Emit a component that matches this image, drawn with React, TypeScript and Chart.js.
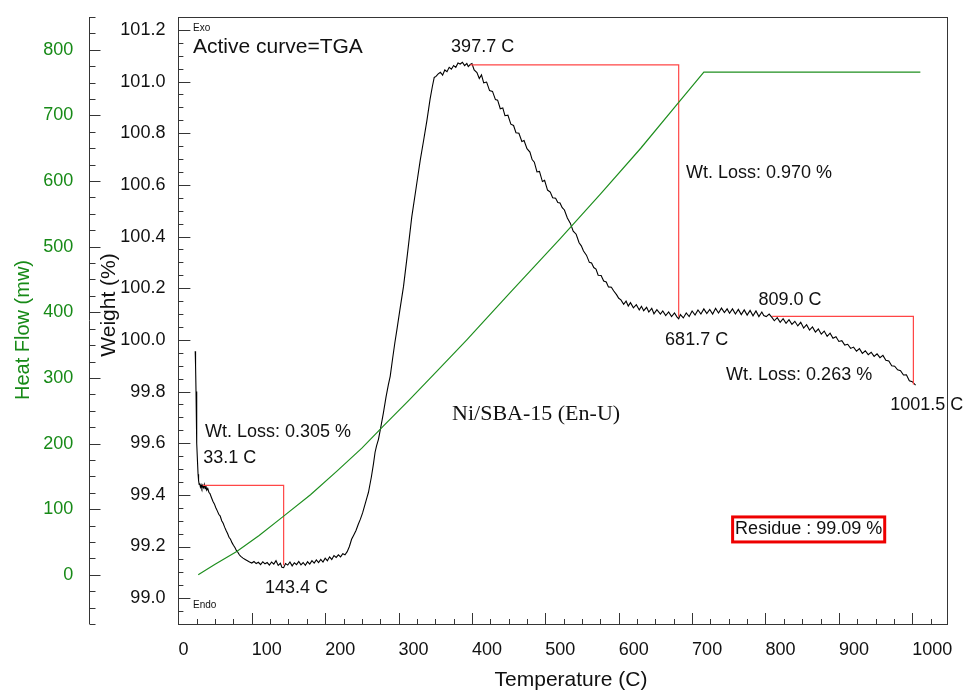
import React, { useEffect, useRef } from 'react';
import { Chart, registerables } from 'chart.js';

Chart.register(...registerables);

const SANS = '"Liberation Sans", Arial, Helvetica, sans-serif';
const SERIF = '"Liberation Serif", "Times New Roman", serif';
const GREEN_LINE = '#1f8f1f';
const GREEN_TEXT = '#178a17';
const RED = '#ff4646';
const AXIS = '#353535';

// ---- TGA curve (Temperature °C, Weight %) ----
const TGA_T = [
  22.9, 23.4, 24.0, 24.6, 25.3, 26.0, 26.8, 27.5, 28.3, 29.0, 30.0, 31.0, 32.0, 33.1, 34.2, 35.3, 36.4, 37.5, 38.6, 40.0,
  41.5, 43, 45, 47, 49, 51, 53, 55, 57, 59, 61, 63, 65, 67, 69, 71, 73, 75, 77, 79,
  81, 83, 85, 88, 91, 94, 97, 100, 103, 106, 109, 112, 115, 118, 121, 124, 127, 130, 133, 136,
  139, 141, 143.4, 146, 149, 152, 155, 158, 161, 164, 167, 170, 173, 176, 179, 182, 185, 188, 191, 194,
  197, 200, 203, 206, 209, 212, 215, 218, 221, 224, 227, 230, 233, 236, 239, 242, 245, 248, 251, 254,
  257, 259, 261, 263, 265.8, 268, 270, 272.6, 276, 279.4, 283, 286, 288.6, 292, 295, 297.7, 302, 306.7, 312, 318,
  324, 329.5, 334, 338.6, 343, 346, 348.6, 351, 354, 357, 360, 363, 366, 369, 372, 375, 378, 381, 384, 387,
  390, 393, 395, 397.7, 400, 403, 406.8, 410, 413, 416, 420, 424, 428, 432, 435, 438.6, 442, 445, 449, 453,
  456.7, 460, 464, 468, 471, 475, 479, 482, 485, 488.6, 492, 496, 499, 503, 506.7, 510, 514, 517, 520, 523,
  526, 530, 534, 538, 542, 546, 549, 552, 556, 560, 563, 566, 569, 572, 576, 579.5, 583, 586, 590, 593,
  597, 600, 603, 606.7, 610, 613, 616, 620, 624, 628, 631, 634, 638, 641, 645, 648, 652, 656.8, 660, 664,
  668, 672, 676, 679.5, 681.7, 684, 688, 692, 696, 700, 704, 708, 712, 716, 720, 724, 728, 732, 736, 740,
  744, 747.7, 751, 755, 759, 763, 767, 771, 775, 779, 783, 787, 791, 795, 797.6, 801, 805, 809, 812, 816,
  820, 824, 828, 832, 836, 840, 844, 848, 852, 856, 860, 864, 868, 872, 876, 880, 884, 888, 892, 896,
  900, 904, 908, 912, 916, 920, 924, 928, 932, 936, 940, 944, 948, 952, 956, 960, 964, 968, 972, 976,
  980, 984, 988, 992, 996, 1000, 1004.5,
];
const TGA_W = [
  99.956, 99.9, 99.8, 99.7, 99.6, 99.53, 99.48, 99.455, 99.44, 99.445, 99.43, 99.438, 99.426, 99.437, 99.428, 99.44, 99.424, 99.435, 99.418, 99.425,
  99.41, 99.405, 99.39, 99.375, 99.365, 99.35, 99.338, 99.325, 99.318, 99.3, 99.29, 99.275, 99.262, 99.25, 99.236, 99.228, 99.215, 99.205, 99.196, 99.185,
  99.178, 99.168, 99.162, 99.155, 99.15, 99.145, 99.14, 99.136, 99.142, 99.134, 99.139, 99.13, 99.141, 99.133, 99.138, 99.128, 99.14, 99.132, 99.145, 99.127,
  99.135, 99.12, 99.118, 99.134, 99.128, 99.14, 99.125, 99.137, 99.13, 99.142, 99.129, 99.138, 99.127, 99.141, 99.132, 99.145, 99.136, 99.148, 99.138, 99.15,
  99.14, 99.155, 99.145, 99.16, 99.15, 99.165, 99.158, 99.168, 99.16, 99.172, 99.168, 99.18, 99.2, 99.228, 99.245, 99.262, 99.285, 99.306, 99.33, 99.36,
  99.39, 99.41, 99.44, 99.47, 99.52, 99.565, 99.59, 99.615, 99.665, 99.718, 99.78, 99.825, 99.859, 99.93, 99.99, 100.039, 100.12, 100.206, 100.33, 100.476,
  100.59, 100.695, 100.77, 100.849, 100.933, 100.98, 101.016, 101.02, 101.03, 101.036, 101.025, 101.045, 101.038, 101.055, 101.048, 101.062, 101.055, 101.072, 101.068, 101.075,
  101.062, 101.07, 101.058, 101.066, 101.07, 101.045, 101.035, 101.012, 101.026, 100.995, 100.998, 100.965, 100.962, 100.93, 100.928, 100.895, 100.898, 100.868, 100.87, 100.835,
  100.83, 100.802, 100.8, 100.768, 100.772, 100.74, 100.727, 100.698, 100.688, 100.65, 100.652, 100.613, 100.618, 100.58, 100.572, 100.55, 100.548, 100.532, 100.53, 100.512,
  100.503, 100.472, 100.452, 100.421, 100.409, 100.376, 100.364, 100.344, 100.328, 100.3, 100.298, 100.28, 100.274, 100.25, 100.249, 100.228, 100.224, 100.205, 100.204, 100.19,
  100.175, 100.161, 100.155, 100.138, 100.15, 100.131, 100.144, 100.124, 100.136, 100.116, 100.13, 100.113, 100.126, 100.108, 100.122, 100.101, 100.117, 100.1, 100.112, 100.094,
  100.108, 100.09, 100.104, 100.088, 100.082, 100.098, 100.085, 100.104, 100.09, 100.112, 100.096, 100.116, 100.1, 100.12, 100.102, 100.118, 100.1, 100.122, 100.104, 100.123,
  100.106, 100.12, 100.103, 100.12, 100.1, 100.118, 100.098, 100.116, 100.096, 100.114, 100.093, 100.112, 100.09, 100.108, 100.094, 100.09, 100.1, 100.086, 100.074, 100.086,
  100.068, 100.082, 100.064, 100.078, 100.06, 100.072, 100.054, 100.068, 100.046, 100.059, 100.038, 100.05, 100.03, 100.042, 100.022, 100.034, 100.014, 100.026, 100.006, 100.012,
  99.994, 99.997, 99.98, 99.983, 99.967, 99.972, 99.956, 99.966, 99.948, 99.958, 99.943, 99.952, 99.936, 99.946, 99.931, 99.94, 99.921, 99.918, 99.9, 99.898,
  99.884, 99.881, 99.864, 99.865, 99.842, 99.838, 99.825,
];

// ---- Heat flow curve (Temperature °C, mW) ----
const HF_T = [27, 50, 79.5, 110, 143, 180, 216, 250, 279.5, 315, 352, 393, 407, 452, 520, 575, 630, 681.7, 716, 1011];
const HF_V = [0, 16, 35.5, 60, 89, 122, 158, 193, 227, 267, 310, 358, 375, 430, 512, 580, 650, 720, 766, 766];

// ---- Weight-loss step markers (Temperature °C, Weight %) ----
const STEP1_T = [33.1, 143.4, 143.4];
const STEP1_W = [99.437, 99.437, 99.127];
const STEP2_T = [397.7, 681.7, 681.7];
const STEP2_W = [101.065, 101.065, 100.09];
const STEP3_T = [809.0, 1001.5, 1001.5];
const STEP3_W = [100.091, 100.091, 99.827];

// ---- Axis settings ----
const X_MIN = 0;
const X_MAX = 1048;
const X_STEP = 100;
const X_MINOR = 25;
const W_MIN = 98.9;
const W_MAX = 101.25;
const W_STEP = 0.2;
const W_MINOR = 0.05;
const H_MIN = -75;
const H_MAX = 850;
const H_STEP = 100;
const H_MINOR = 25;

// ---- Text annotations placed in (Temperature, Weight) coordinates ----
const NOTES = [
  { text: 'Exo', t: 19.9, w: 101.207, size: 10 },
  { text: 'Endo', t: 19.9, w: 98.974, size: 10 },
  { text: 'Active curve=TGA', t: 19.9, w: 101.134, size: 21 },
  { text: '397.7 C', t: 371.6, w: 101.134, size: 18 },
  { text: 'Wt. Loss: 0.970 %', t: 691.7, w: 100.646, size: 18 },
  { text: '809.0 C', t: 790.4, w: 100.154, size: 18 },
  { text: '681.7 C', t: 663.2, w: 100.0, size: 18 },
  { text: 'Wt. Loss: 0.263 %', t: 746.3, w: 99.865, size: 18 },
  { text: '1001.5 C', t: 969.9, w: 99.748, size: 18 },
  { text: 'Ni/SBA-15 (En-U)', t: 372.9, w: 99.713, size: 22, serif: true },
  { text: 'Wt. Loss: 0.305 %', t: 36.3, w: 99.643, size: 18 },
  { text: '33.1 C', t: 33.9, w: 99.542, size: 18 },
  { text: '143.4 C', t: 118, w: 99.038, size: 18 },
];
const RESIDUE = { text: 'Residue : 99.09 %', t: 758.6, w: 99.268, size: 18 };

const pts = (xs: number[], ys: number[]) => xs.map((x, i) => ({ x, y: ys[i] }));

const decorPlugin = {
  id: 'decor',
  beforeDatasetsDraw(chart: any) {
    const { ctx, chartArea: ca, scales } = chart;
    const xs = scales.x, yw = scales.yW, yh = scales.yH;
    ctx.save();
    ctx.strokeStyle = AXIS;
    ctx.lineWidth = 1;
    const line = (x1: number, y1: number, x2: number, y2: number) => {
      ctx.beginPath();
      ctx.moveTo(x1, y1);
      ctx.lineTo(x2, y2);
      ctx.stroke();
    };
    // frame
    ctx.strokeRect(Math.round(ca.left) + 0.5, Math.round(ca.top) + 0.5, Math.round(ca.right - ca.left), Math.round(ca.bottom - ca.top));
    // bottom axis ticks (inward)
    const nx0 = Math.ceil(X_MIN / X_MINOR - 1e-9);
    for (let i = nx0; i * X_MINOR <= X_MAX + 1e-9; i++) {
      const v = i * X_MINOR;
      const px = Math.round(xs.getPixelForValue(v)) + 0.5;
      const major = Math.abs(v / X_STEP - Math.round(v / X_STEP)) < 1e-6;
      line(px, ca.bottom, px, ca.bottom - (major ? 11 : 5));
    }
    // weight axis ticks (inward from frame)
    const nw0 = Math.ceil(W_MIN / W_MINOR - 1e-6);
    for (let i = nw0; i * W_MINOR <= W_MAX + 1e-6; i++) {
      const v = i * W_MINOR;
      const py = Math.round(yw.getPixelForValue(v)) + 0.5;
      const major = i % 4 === 0;
      line(ca.left, py, ca.left + (major ? 12 : 5), py);
    }
    // heat flow axis line and ticks
    const ax = Math.round(yh.right) + 0.5;
    line(ax, ca.top, ax, ca.bottom);
    const nh0 = Math.ceil(H_MIN / H_MINOR - 1e-9);
    for (let i = nh0; i * H_MINOR <= H_MAX + 1e-9; i++) {
      const v = i * H_MINOR;
      const py = Math.round(yh.getPixelForValue(v)) + 0.5;
      const major = v % H_STEP === 0;
      line(ax, py, ax + (major ? 11 : 6), py);
    }
    ctx.restore();
  },
  afterDraw(chart: any) {
    const { ctx, scales } = chart;
    const xs = scales.x, yw = scales.yW;
    ctx.save();
    ctx.textBaseline = 'middle';
    ctx.textAlign = 'left';
    ctx.fillStyle = '#111';
    for (const n of NOTES) {
      ctx.font = `${n.size}px ${n.serif ? SERIF : SANS}`;
      ctx.fillText(n.text, xs.getPixelForValue(n.t), yw.getPixelForValue(n.w));
    }
    // residue box
    ctx.font = `${RESIDUE.size}px ${SANS}`;
    const rx = xs.getPixelForValue(RESIDUE.t);
    const ry = yw.getPixelForValue(RESIDUE.w);
    const tw = ctx.measureText(RESIDUE.text).width;
    ctx.fillText(RESIDUE.text, rx, ry);
    ctx.strokeStyle = '#ee0000';
    ctx.lineWidth = 3;
    ctx.strokeRect(rx - 2.5, ry - 12, tw + 5, 25);

    // axis titles
    ctx.fillStyle = '#111';
    ctx.font = `21px ${SANS}`;
    ctx.textAlign = 'center';
    ctx.fillText('Temperature (C)', 571, 680);

    ctx.save();
    ctx.translate(109, 305);
    ctx.rotate(-Math.PI / 2);
    ctx.font = `21px ${SANS}`;
    ctx.fillStyle = '#111';
    ctx.fillText('Weight (%)', 0, 0);
    ctx.restore();

    ctx.save();
    ctx.translate(23, 330);
    ctx.rotate(-Math.PI / 2);
    ctx.font = `20px ${SANS}`;
    ctx.fillStyle = GREEN_TEXT;
    ctx.fillText('Heat Flow (mw)', 0, 0);
    ctx.restore();

    ctx.restore();
  },
};

const noPad = (s: any) => {
  s.paddingTop = 0;
  s.paddingBottom = 0;
  s.paddingLeft = 0;
  s.paddingRight = 0;
};

export default function App() {
  const ref = useRef<HTMLCanvasElement | null>(null);

  useEffect(() => {
    if (!ref.current) return;
    const stepStyle = { borderColor: RED, borderWidth: 1.2, pointRadius: 0, yAxisID: 'yW', tension: 0 };
    const chart = new Chart(ref.current, {
      type: 'line',
      data: {
        datasets: [
          { data: pts(HF_T, HF_V), borderColor: GREEN_LINE, borderWidth: 1.2, pointRadius: 0, yAxisID: 'yH', tension: 0 },
          { data: pts(STEP1_T, STEP1_W), ...stepStyle },
          { data: pts(STEP2_T, STEP2_W), ...stepStyle },
          { data: pts(STEP3_T, STEP3_W), ...stepStyle },
          { data: pts(TGA_T, TGA_W), borderColor: '#000', borderWidth: 1.1, pointRadius: 0, yAxisID: 'yW', tension: 0 },
        ] as any,
      },
      options: {
        animation: false,
        responsive: false,
        maintainAspectRatio: false,
        devicePixelRatio: 1,
        layout: { padding: { left: 0, right: 18.5, top: 17, bottom: 0 } },
        plugins: { legend: { display: false }, tooltip: { enabled: false } },
        events: [],
        scales: {
          x: {
            type: 'linear',
            position: 'bottom',
            min: X_MIN,
            max: X_MAX,
            grid: { display: false, drawTicks: false },
            border: { display: false },
            ticks: {
              stepSize: X_STEP,
              align: 'start',
              padding: 15,
              color: '#111',
              font: { size: 18, family: SANS },
              includeBounds: false,
              autoSkip: false,
              maxRotation: 0,
              callback: (v: any) => String(Math.round(Number(v))),
            },
            afterFit: (s: any) => { s.height = 69; noPad(s); },
          },
          yW: {
            type: 'linear',
            position: 'left',
            weight: 0,
            min: W_MIN,
            max: W_MAX,
            grid: { display: false, drawTicks: false },
            border: { display: false },
            ticks: {
              stepSize: W_STEP,
              padding: 13,
              color: '#111',
              font: { size: 18, family: SANS },
              includeBounds: false,
              autoSkip: false,
              callback: (v: any) => Number(v).toFixed(1),
            },
            afterFit: (s: any) => { s.width = 89.1; noPad(s); },
          },
          yH: {
            type: 'linear',
            position: 'left',
            weight: 10,
            min: H_MIN,
            max: H_MAX,
            grid: { display: false, drawTicks: false },
            border: { display: false },
            ticks: {
              stepSize: H_STEP,
              padding: 16,
              color: GREEN_TEXT,
              font: { size: 18, family: SANS },
              includeBounds: false,
              autoSkip: false,
            },
            afterFit: (s: any) => { s.width = 89.3; noPad(s); },
          },
        } as any,
      },
      plugins: [decorPlugin],
    });
    return () => chart.destroy();
  }, []);

  return (
    <div style={{ position: 'fixed', left: 0, top: 0, width: 966, height: 693, background: '#fff' }}>
      <canvas ref={ref} width={966} height={693} style={{ display: 'block' }} />
    </div>
  );
}
